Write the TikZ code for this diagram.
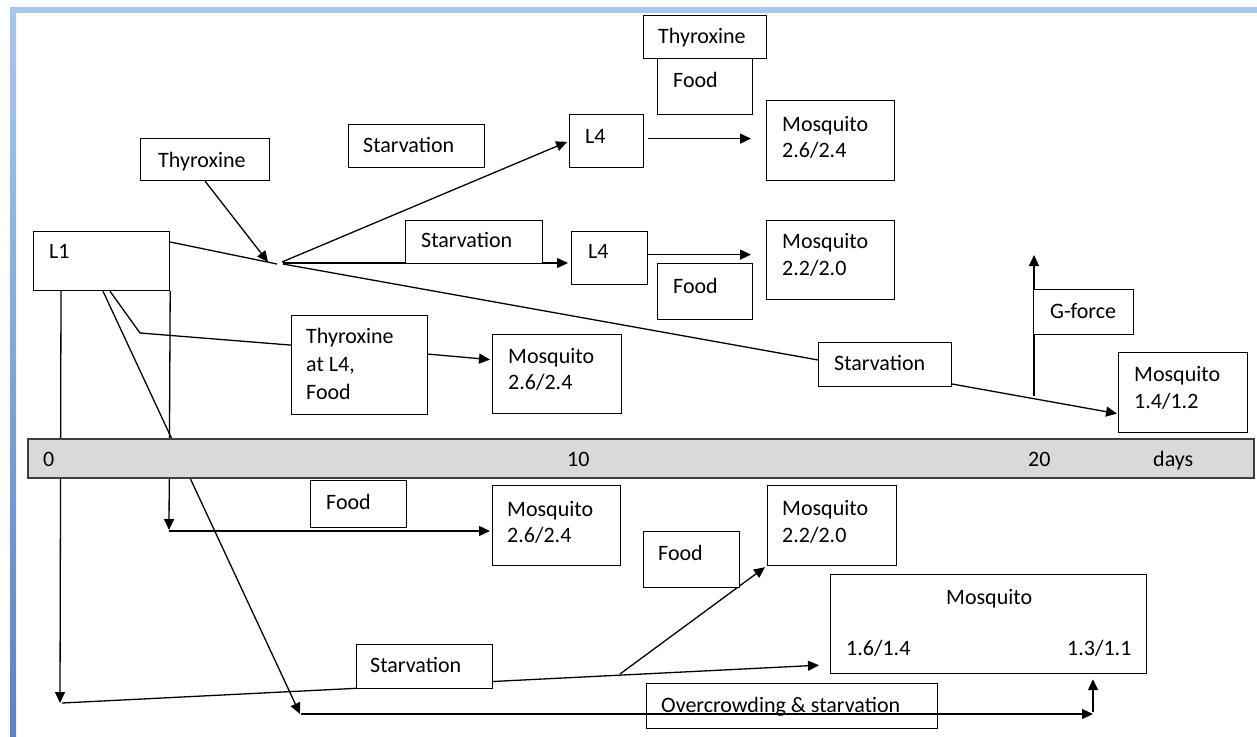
\documentclass[tikz,border=0pt]{standalone}
\usepackage{fontspec}
\setmainfont{Carlito}
\usetikzlibrary{arrows.meta,calc}
\definecolor{frameTop}{HTML}{A9C6EC}
\definecolor{frameBot}{HTML}{5B83C2}
\definecolor{axisfill}{HTML}{D9D9D9}
\definecolor{axisdraw}{HTML}{3F3F3F}
\pgfdeclarelayer{back}
\pgfdeclarelayer{bg}
\pgfsetlayers{back,bg,main}
\tikzset{
  box/.style={draw=black, line width=1.2pt, fill=white, anchor=north west, inner sep=0pt},
  txt/.style={anchor=base west, inner sep=0pt, font=\fontsize{22}{27}\selectfont, align=left, text=black},
  ln/.style={line width=1.3pt, draw=black},
  arr/.style={ln, -{Triangle[length=11pt,width=10pt]}},
  axisbar/.style={draw=axisdraw, line width=1.5pt, fill=axisfill, anchor=north west, inner sep=0pt}
}
\newcommand\bx[6][box]{\node[#1, minimum width={#5pt-#3pt}, minimum height={#6pt-#4pt}] (#2) at (#3,#4) {};}
\begin{document}
\begin{tikzpicture}[x=1pt,y=-1pt]
\useasboundingbox (0,0) rectangle (1257,736);
\begin{pgfonlayer}{back}
\fill[white] (0,0) rectangle (1257,736);
\shade[top color=frameTop, bottom color=frameBot] (10,7) rectangle (16,736);
\fill[frameTop] (10,7) rectangle (1257,13);
\end{pgfonlayer}

% axis
\bx[axisbar]{axis}{27}{438}{1253}{477}
\node[txt] (t0) at (43,466) {0};
\node[txt] (t10) at (567,466) {10};
\node[txt] (t20) at (1028,466) {20};
\node[txt] (tdays) at (1153,466) {days};

% boxes (multi-line texts are placed by the baseline of their last line)
\bx{thyT}{643}{15}{766}{58}
\node[txt] (thyT-t) at (658,43) {Thyroxine};
\bx{foodT}{657}{58}{752}{114}
\node[txt] (foodT-t) at (673,87) {Food};
\bx{thyL}{140}{138}{269}{180}
\node[txt] (thyL-t) at (158,167) {Thyroxine};
\bx{starvT}{348}{124}{484}{167}
\node[txt] (starvT-t) at (363,152) {Starvation};
\bx{L4a}{569}{114}{643}{167}
\node[txt] (L4a-t) at (585,143) {L4};
\bx{mosA}{766}{100}{894}{180}
\node[txt] (mosA-t) at (782,157) {Mosquito\\[-1pt]2.6/2.4};
\bx{L1}{33}{231}{169}{290}
\node[txt] (L1-t) at (49,258) {L1};
\bx{starvM}{405}{220}{542}{263}
\node[txt] (starvM-t) at (421,247) {Starvation};
\bx{L4b}{571}{231}{647}{284}
\node[txt] (L4b-t) at (588,258) {L4};
\bx{foodM}{657}{263}{752}{319}
\node[txt] (foodM-t) at (673,293) {Food};
\bx{mosB}{766}{220}{894}{299}
\node[txt] (mosB-t) at (782,275) {Mosquito\\2.2/2.0};
\bx{thyF}{291}{315}{427}{414}
\node[txt] (thyF-t) at (306,399) {Thyroxine\\[1pt]at L4,\\[1pt]Food};
\bx{mosC}{492}{334}{621}{413}
\node[txt] (mosC-t) at (508,389) {Mosquito\\[-1pt]2.6/2.4};
\bx{starvR}{818}{342}{951}{386}
\node[txt] (starvR-t) at (834,370) {Starvation};
\bx{gforce}{1033}{289}{1133}{334}
\node[txt] (gforce-t) at (1050,318) {G-force};
\bx{mos1412}{1118}{352}{1247}{432}
\node[txt] (mos1412-t) at (1134,408) {Mosquito\\1.4/1.2};
\bx{foodL}{310}{480}{406}{527}
\node[txt] (foodL-t) at (326,509) {Food};
\bx{mosD}{492}{485}{620}{565}
\node[txt] (mosD-t) at (507,542) {Mosquito\\[-1pt]2.6/2.4};
\bx{foodLM}{643}{531}{739}{587}
\node[txt] (foodLM-t) at (658,560) {Food};
\bx{mosE}{767}{485}{896}{565}
\node[txt] (mosE-t) at (782,542) {Mosquito\\2.2/2.0};
\bx{mosBig}{830}{574}{1146}{673}
\node[txt] (mosBig-t) at (946,604) {Mosquito};
\node[txt] (mosBig-l) at (846,655) {1.6/1.4};
\node[txt] (mosBig-r) at (1067,655) {1.3/1.1};
\bx{starvL}{356}{644}{492}{688}
\node[txt] (starvL-t) at (370,672) {Starvation};
\bx[box,fill=none]{overB}{646}{683}{937}{728}
\node[txt] (overB-t) at (661,712) {Overcrowding \& starvation};

% connectors
\coordinate (J) at (277,264);
\coordinate (J2) at (283,263);
\coordinate (c1) at (61,703);
\coordinate (c2) at (620,674);
\coordinate (c3) at (169,531);
\coordinate (c4) at (300,714);
\coordinate (c5) at (1093,714);
\coordinate (c6) at (140,333);
\coordinate (c7) at (1034,396);

\begin{pgfonlayer}{bg}
\draw[ln] ([yshift=-11pt]L1.north east) -- (J);
\draw[arr] (thyL.south) -- ($(J)+(-9,-2)$);
\draw[arr, shorten >=2pt] ($(J)+(5,-2)$) -- (L4a.west);
\draw[arr, shorten >=3pt] (J2) -- (J2 -| L4b.west);
\draw[arr] ($(J)+(6,0)$) -- ([xshift=-1pt,yshift=-21pt]mos1412.west);
\draw[arr] (c7) -- ([yshift=34pt]c7 |- gforce.north);
\draw[arr, shorten >=15pt] ([xshift=4pt,yshift=2.5pt]L4a.east) coordinate (a1) -- (a1 -| mosA.west);
\draw[arr, shorten >=15pt] ([xshift=0pt,yshift=3.5pt]L4b.east) coordinate (a2) -- (a2 -| mosB.west);
% L1 downward connectors
\draw[ln] ([xshift=77pt]L1.south west) -- (c6) -- ([yshift=20pt]thyF.west);
\draw[arr] ([yshift=11pt]thyF.east) -- ([xshift=-2pt,yshift=14.5pt]mosC.west);
\draw[arr] ([xshift=28pt]L1.south west) -- ([xshift=-1pt]c1);
\draw[arr] ([xshift=1pt]c1) -- ([xshift=-11pt,yshift=9pt]mosBig.south west);
\draw[arr] (c2) -- ([xshift=-2pt,yshift=-1pt]mosE.south west);
\draw[arr] (L1.south east) -- ([yshift=1pt]c3);
\draw[arr, shorten >=2pt] (c3) -- (c3 -| mosD.west);
\draw[arr] ([xshift=70pt]L1.south west) -- (c4);
\draw[arr] ([xshift=1pt]c4) -- (c5);
\draw[arr, shorten >=5pt] ([yshift=2pt]c5) -- (c5 |- mosBig.south);
\end{pgfonlayer}
\end{tikzpicture}
\end{document}
